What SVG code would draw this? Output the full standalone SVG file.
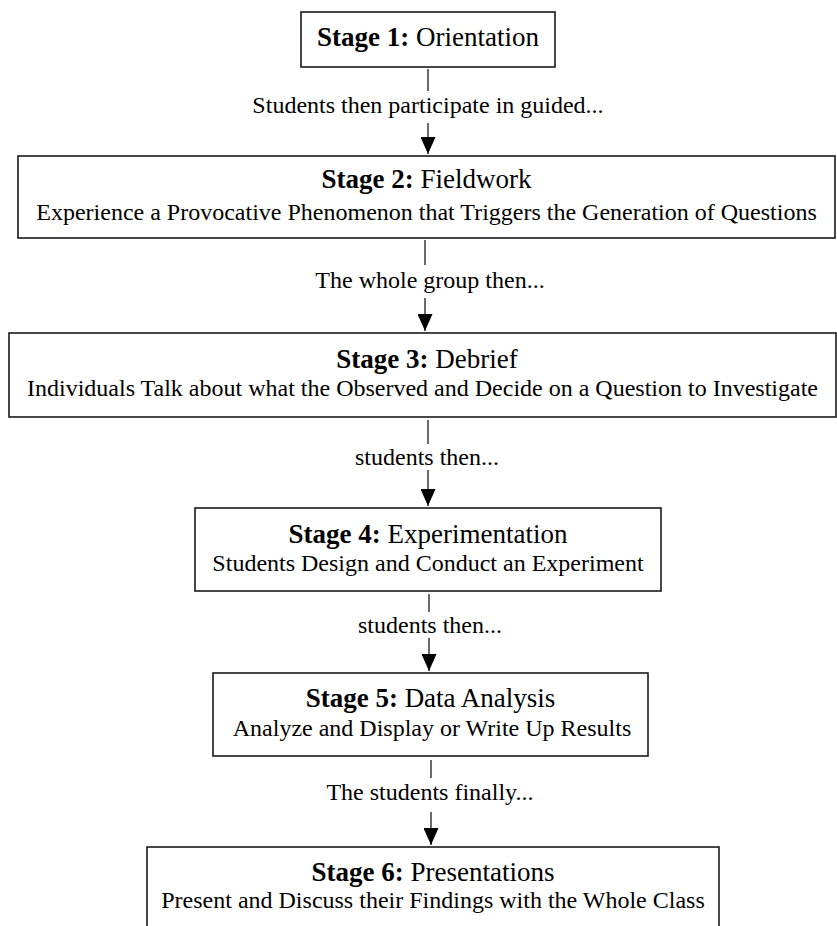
<svg xmlns="http://www.w3.org/2000/svg" width="837" height="926" viewBox="0 0 837 926">
<style>
.box{fill:#fff;stroke:#1a1a1a;stroke-width:1.6}
.t{font-family:"Liberation Serif","Times New Roman",serif;fill:#000;text-anchor:middle}
.title{font-size:27px}
.b{font-weight:bold}
.sub{font-size:24px}
.lbl{font-family:"Liberation Serif","Times New Roman",serif;font-size:24px;fill:#000;text-anchor:middle}
.ln{stroke:#1a1a1a;stroke-width:1.3;fill:none}
</style>
<defs>
<marker id="ah" markerUnits="userSpaceOnUse" markerWidth="17" markerHeight="15" viewBox="0 -7.5 17 15" refX="17" refY="0" orient="auto">
<path d="M0,-7.5 L17,0 L0,7.5 z" fill="#000"/>
</marker>
</defs>
<rect width="837" height="926" fill="#fff"/>
<g id="connectors">
<line class="ln" x1="428" y1="69" x2="428" y2="91"/>
<line class="ln" x1="428" y1="123" x2="428" y2="154" marker-end="url(#ah)"/>
<text class="lbl" x="428" y="113">Students then participate in guided...</text>
<line class="ln" x1="425" y1="240" x2="425" y2="265"/>
<line class="ln" x1="425" y1="298" x2="425" y2="331" marker-end="url(#ah)"/>
<text class="lbl" x="430" y="288">The whole group then...</text>
<line class="ln" x1="428" y1="420" x2="428" y2="444"/>
<line class="ln" x1="428" y1="470" x2="428" y2="506" marker-end="url(#ah)"/>
<text class="lbl" x="427" y="465">students then...</text>
<line class="ln" x1="429" y1="594" x2="429" y2="612"/>
<line class="ln" x1="429" y1="638" x2="429" y2="671" marker-end="url(#ah)"/>
<text class="lbl" x="430" y="633">students then...</text>
<line class="ln" x1="431" y1="760" x2="431" y2="778"/>
<line class="ln" x1="431" y1="812" x2="431" y2="845" marker-end="url(#ah)"/>
<text class="lbl" x="430" y="800">The students finally...</text>
</g>
<g id="stage1">
<rect class="box" x="301" y="12" width="254" height="55"/>
<text class="t title" x="428" y="46"><tspan class="b">Stage 1:</tspan> Orientation</text>
</g>
<g id="stage2">
<rect class="box" x="18" y="156" width="817" height="82"/>
<text class="t title" x="426.5" y="188"><tspan class="b">Stage 2:</tspan> Fieldwork</text>
<text class="t sub" x="426.5" y="220">Experience a Provocative Phenomenon that Triggers the Generation of Questions</text>
</g>
<g id="stage3">
<rect class="box" x="9" y="333" width="827" height="84"/>
<text class="t title" x="427" y="368"><tspan class="b">Stage 3:</tspan> Debrief</text>
<text class="t sub" x="422.5" y="396">Individuals Talk about what the Observed and Decide on a Question to Investigate</text>
</g>
<g id="stage4">
<rect class="box" x="195" y="508" width="466" height="83"/>
<text class="t title" x="428" y="543"><tspan class="b">Stage 4:</tspan> Experimentation</text>
<text class="t sub" x="428" y="571">Students Design and Conduct an Experiment</text>
</g>
<g id="stage5">
<rect class="box" x="213" y="673" width="435" height="83"/>
<text class="t title" x="430.5" y="707"><tspan class="b">Stage 5:</tspan> Data Analysis</text>
<text class="t sub" x="432" y="736">Analyze and Display or Write Up Results</text>
</g>
<g id="stage6">
<rect class="box" x="147" y="847" width="572" height="100"/>
<text class="t title" x="433" y="881"><tspan class="b">Stage 6:</tspan> Presentations</text>
<text class="t sub" x="433" y="908">Present and Discuss their Findings with the Whole Class</text>
</g>
</svg>
